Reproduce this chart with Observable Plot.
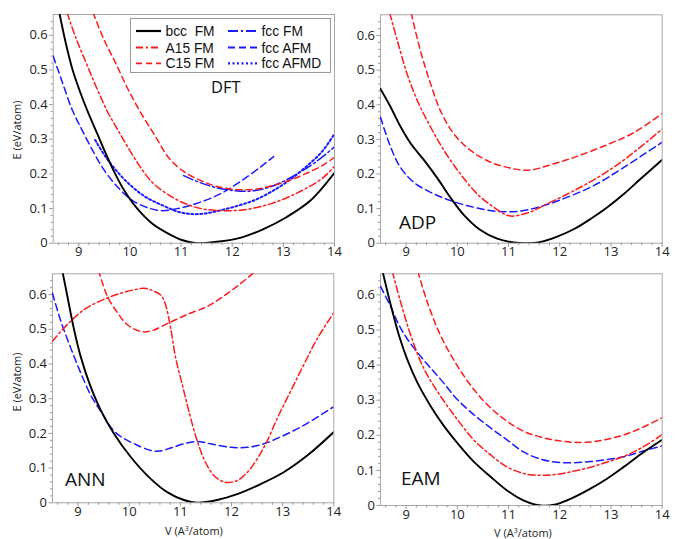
<!DOCTYPE html>
<html><head><meta charset="utf-8">
<script src="https://cdn.jsdelivr.net/npm/d3@7"></script>
<script src="https://cdn.jsdelivr.net/npm/@observablehq/plot@0.6"></script>
<style>
body{margin:0;background:#fff;}
#wrap{position:relative;width:681px;height:539px;overflow:hidden;font-family:"Open Sans",sans-serif;background:#fff;}
#wrap .pl{position:absolute;}
#ov{position:absolute;left:0;top:0;pointer-events:none;}
</style></head><body><div id="wrap"></div>
<script>
// ---- tick labels ----
const xTicks = [9, 10, 11, 12, 13, 14];
const yTicks = [0, 0.1, 0.2, 0.3, 0.4, 0.5, 0.6];
const xMinor = d3.range(8.6, 14.0, 0.2).filter(v => Math.abs(v - Math.round(v)) > 0.01);
const yMinor = d3.range(0.02, 0.66, 0.02).filter(v => Math.abs(v * 10 - Math.round(v * 10)) > 0.01);

// ---- series names ----
const seriesNames = ["bcc  FM", "A15 FM", "C15 FM", "fcc FM", "fcc AFM", "fcc AFMD"];
const panelNames = ["DFT", "ADP", "ANN", "EAM"];

// ---- DFT ----
const dftBcc = [[8.62,0.665],[8.75,0.575],[8.88,0.5],[9.03,0.435],[9.18,0.378],[9.37,0.313],[9.53,0.258],[9.72,0.198],[9.89,0.152],[10.12,0.104],[10.44,0.056],[10.77,0.026],[11.0,0.01],[11.3,0.0],[11.7,0.004],[12.19,0.017],[12.6,0.04],[13.06,0.075],[13.53,0.123],[14.0,0.203]];
const dftA15 = [[8.77,0.665],[8.95,0.59],[9.14,0.522],[9.35,0.448],[9.56,0.38],[9.74,0.333],[9.92,0.287],[10.18,0.225],[10.44,0.175],[10.77,0.138],[11.09,0.114],[11.42,0.099],[11.8,0.094],[12.13,0.095],[12.45,0.102],[12.78,0.115],[13.11,0.134],[13.43,0.157],[13.76,0.187],[14.0,0.222]];
const dftC15 = [[9.28,0.665],[9.5,0.585],[9.72,0.52],[9.95,0.448],[10.21,0.377],[10.5,0.308],[10.75,0.248],[11.05,0.207],[11.4,0.18],[11.67,0.165],[12.06,0.155],[12.46,0.156],[12.78,0.166],[13.11,0.181],[13.43,0.2],[13.76,0.224],[14.0,0.248]];
const dftFccFM = [[11.05,0.195],[11.35,0.176],[11.67,0.161],[12.0,0.152],[12.32,0.15],[12.65,0.158],[12.98,0.177],[13.3,0.203],[13.63,0.234],[14.0,0.278]];
const dftFccAFM = [[8.5,0.54],[8.68,0.464],[8.88,0.382],[9.07,0.325],[9.27,0.268],[9.5,0.21],[9.76,0.162],[10.05,0.123],[10.38,0.101],[10.64,0.094],[10.96,0.101],[11.29,0.114],[11.55,0.128],[11.8,0.145],[12.19,0.181],[12.59,0.224],[12.81,0.25]];
const dftFccAFMD = [[9.32,0.298],[9.53,0.248],[9.79,0.2],[10.05,0.162],[10.31,0.133],[10.64,0.109],[10.96,0.09],[11.22,0.084],[11.48,0.086],[11.8,0.096],[12.13,0.109],[12.45,0.125],[12.78,0.15],[13.11,0.181],[13.43,0.219],[13.76,0.265],[14.0,0.316]];

// ---- ADP ----
const adpBcc = [[8.5,0.446],[8.7,0.393],[8.89,0.337],[9.09,0.288],[9.35,0.24],[9.61,0.188],[9.87,0.131],[10.13,0.081],[10.45,0.038],[10.78,0.013],[11.1,0.002],[11.33,0.0],[11.6,0.003],[11.95,0.019],[12.28,0.041],[12.6,0.07],[12.93,0.104],[13.25,0.142],[13.58,0.186],[14.0,0.241]];
const adpA15 = [[8.68,0.665],[8.83,0.585],[9.02,0.489],[9.22,0.412],[9.48,0.335],[9.74,0.268],[10.06,0.2],[10.39,0.142],[10.71,0.104],[11.01,0.079],[11.36,0.087],[11.76,0.114],[12.28,0.152],[12.8,0.195],[13.32,0.248],[14.0,0.33]];
const adpC15 = [[9.1,0.665],[9.28,0.556],[9.48,0.46],[9.67,0.383],[9.93,0.316],[10.26,0.268],[10.65,0.234],[11.1,0.215],[11.3,0.211],[11.5,0.213],[11.76,0.224],[12.28,0.248],[12.93,0.285],[13.45,0.32],[14.0,0.375]];
const adpFccAFM = [[8.5,0.364],[8.7,0.277],[8.89,0.219],[9.15,0.176],[9.48,0.147],[9.87,0.123],[10.32,0.104],[10.78,0.092],[11.17,0.092],[11.63,0.106],[12.15,0.133],[12.67,0.167],[13.25,0.219],[14.0,0.292]];

// ---- ANN ----
const annBcc = [[8.69,0.67],[8.79,0.596],[8.92,0.5],[9.05,0.422],[9.22,0.345],[9.44,0.268],[9.7,0.2],[10.03,0.132],[10.4,0.072],[10.75,0.03],[11.07,0.008],[11.33,0.0],[11.72,0.008],[12.11,0.025],[12.57,0.054],[13.02,0.088],[13.48,0.136],[14.0,0.204]];
const annA15 = [[8.5,0.466],[8.79,0.514],[9.12,0.557],[9.44,0.582],[9.77,0.601],[10.1,0.614],[10.3,0.618],[10.45,0.612],[10.62,0.598],[10.71,0.571],[10.81,0.503],[10.91,0.416],[11.04,0.339],[11.17,0.262],[11.33,0.178],[11.49,0.117],[11.66,0.078],[11.88,0.059],[12.11,0.064],[12.31,0.088],[12.5,0.126],[12.67,0.17],[12.89,0.242],[13.15,0.32],[13.41,0.397],[13.68,0.474],[14.0,0.548]];
const annC15 = [[9.4,0.67],[9.57,0.596],[9.77,0.548],[9.96,0.514],[10.22,0.494],[10.42,0.495],[10.81,0.521],[11.2,0.547],[11.53,0.566],[11.79,0.59],[12.11,0.624],[12.45,0.665]];
const annFccAFM = [[8.5,0.604],[8.66,0.525],[8.86,0.445],[9.05,0.375],[9.25,0.31],[9.45,0.262],[9.7,0.207],[9.9,0.185],[10.1,0.17],[10.42,0.151],[10.6,0.149],[10.81,0.158],[11.07,0.17],[11.33,0.177],[11.59,0.17],[11.98,0.16],[12.31,0.16],[12.63,0.17],[13.02,0.194],[13.41,0.223],[14.0,0.277]];

// ---- EAM ----
const eamBcc = [[8.54,0.667],[8.7,0.571],[8.86,0.485],[9.02,0.417],[9.22,0.35],[9.48,0.283],[9.74,0.226],[10.0,0.178],[10.32,0.125],[10.65,0.082],[10.97,0.043],[11.3,0.014],[11.63,0.0],[11.89,0.002],[12.21,0.019],[12.6,0.048],[12.93,0.077],[13.25,0.11],[13.58,0.146],[14.0,0.187]];
const eamA15 = [[8.73,0.667],[8.89,0.581],[9.09,0.485],[9.35,0.389],[9.67,0.312],[10.0,0.245],[10.32,0.187],[10.65,0.144],[10.97,0.11],[11.3,0.091],[11.63,0.086],[11.95,0.089],[12.28,0.098],[12.6,0.109],[12.93,0.124],[13.25,0.14],[13.58,0.163],[14.0,0.202]];
const eamC15 = [[9.23,0.667],[9.41,0.581],[9.67,0.485],[10.0,0.398],[10.32,0.331],[10.65,0.278],[10.97,0.24],[11.3,0.211],[11.63,0.195],[11.95,0.185],[12.28,0.18],[12.6,0.181],[12.93,0.189],[13.25,0.201],[13.58,0.22],[14.0,0.25]];
const eamFccAFM = [[8.5,0.624],[8.7,0.566],[8.86,0.514],[9.02,0.475],[9.35,0.413],[9.67,0.36],[10.0,0.302],[10.32,0.259],[10.65,0.221],[10.97,0.187],[11.3,0.152],[11.63,0.132],[11.95,0.123],[12.28,0.122],[12.6,0.125],[12.93,0.131],[13.25,0.139],[13.58,0.153],[14.0,0.17]];

// ---- styles ----
const RED = "#ff1a1a", BLUE = "#1a1aff";
const styles = {
  "bcc  FM":  {stroke: "#000", w: 1.9, dash: null},
  "A15 FM":   {stroke: RED, w: 1.5, dash: "7,3,2,3"},
  "C15 FM":   {stroke: RED, w: 1.5, dash: "6,4"},
  "fcc FM":   {stroke: BLUE, w: 1.5, dash: "10,3,2,3"},
  "fcc AFM":  {stroke: BLUE, w: 1.5, dash: "7,4"},
  "fcc AFMD": {stroke: BLUE, w: 2, dash: "2,2.5"}
};

const panels = [
  {left: 0, top: 0, width: 340, height: 270, ml: 52.7, mr: 6, mt: 14, mb: 27.3,
   series: [["fcc AFMD", dftFccAFMD], ["fcc AFM", dftFccAFM], ["fcc FM", dftFccFM], ["C15 FM", dftC15], ["A15 FM", dftA15], ["bcc  FM", dftBcc]]},
  {left: 340, top: 0, width: 341, height: 270, ml: 40, mr: 19.3, mt: 14.3, mb: 27.3,
   series: [["fcc AFM", adpFccAFM], ["C15 FM", adpC15], ["A15 FM", adpA15], ["bcc  FM", adpBcc]]},
  {left: 0, top: 270, width: 340, height: 269, ml: 52, mr: 6.7, mt: 3.3, mb: 36.7,
   series: [["fcc AFM", annFccAFM], ["C15 FM", annC15], ["A15 FM", annA15], ["bcc  FM", annBcc]]},
  {left: 340, top: 270, width: 341, height: 269, ml: 40, mr: 19.3, mt: 3.3, mb: 34,
   series: [["fcc AFM", eamFccAFM], ["C15 FM", eamC15], ["A15 FM", eamA15], ["bcc  FM", eamBcc]]}
];

const wrap = document.getElementById("wrap");
for (const p of panels) {
  const marks = [
    Plot.frame({stroke: "#a8a8a8"}),
    Plot.axisX({anchor: "bottom", ticks: xMinor, tickSize: 2.5, tickFormat: () => "", stroke: "#999", label: null}),
    Plot.axisX({anchor: "bottom", ticks: xTicks, tickSize: 4, tickPadding: 0, tickFormat: d => String(d), stroke: "#999", fill: "#222", label: null}),
    Plot.axisY({anchor: "left", ticks: yMinor, tickSize: 2, tickFormat: () => "", stroke: "#999", label: null}),
    Plot.axisY({anchor: "left", ticks: yTicks, tickSize: 3.5, tickPadding: 2, tickFormat: d => String(d), stroke: "#999", fill: "#222", label: null})
  ];
  for (const [name, data] of p.series) {
    const s = styles[name];
    marks.push(Plot.line(data, {x: d => d[0], y: d => d[1], stroke: s.stroke, strokeWidth: s.w,
      strokeDasharray: s.dash, curve: "catmull-rom", clip: true}));
  }
  const svg = Plot.plot({
    width: p.width, height: p.height,
    marginLeft: p.ml, marginRight: p.mr, marginTop: p.mt, marginBottom: p.mb,
    x: {domain: [8.5, 14]},
    y: {domain: [0, 0.66]},
    style: {fontFamily: "Open Sans", fontSize: "13px", overflow: "visible", background: "transparent"},
    marks
  });
  svg.classList.add("pl");
  svg.style.left = p.left + "px";
  svg.style.top = p.top + "px";
  wrap.appendChild(svg);
}

// ---- overlay: legend, panel names, axis titles ----
const NS = "http://www.w3.org/2000/svg";
const ov = document.createElementNS(NS, "svg");
ov.setAttribute("id", "ov");
ov.setAttribute("width", 681);
ov.setAttribute("height", 539);
ov.setAttribute("font-family", "Open Sans");
function el(tag, attrs, text, parent) {
  const e = document.createElementNS(NS, tag);
  for (const k in attrs) if (attrs[k] != null) e.setAttribute(k, attrs[k]);
  if (text != null) e.textContent = text;
  (parent || ov).appendChild(e);
  return e;
}
// legend
el("rect", {x: 130.5, y: 18.5, width: 200, height: 54, fill: "#fff", stroke: "#999", "stroke-width": 1});
const legRows = [31, 47.5, 63.3];
seriesNames.forEach((n, i) => {
  const col = Math.floor(i / 3), row = i % 3;
  const s = styles[n];
  const x0 = col === 0 ? 136 : 228, x1 = col === 0 ? 161 : 257, tx = col === 0 ? 165.5 : 261.5;
  el("line", {x1: x0, x2: x1, y1: legRows[row], y2: legRows[row], stroke: s.stroke, "stroke-width": s.w + 0.3, "stroke-dasharray": s.dash});
  el("text", {x: tx, y: legRows[row] + 5, "font-size": 13.8, "font-family": "Liberation Sans", fill: "#111", style: "white-space:pre"}, n);
});
// panel names
el("text", {x: 211, y: 93.3, "font-size": 16.5, fill: "#111"}, panelNames[0]);
el("text", {x: 399, y: 228.5, "font-size": 19, fill: "#111"}, panelNames[1]);
el("text", {x: 65, y: 485.5, "font-size": 19, fill: "#111"}, panelNames[2]);
el("text", {x: 401, y: 485, "font-size": 19, fill: "#111"}, panelNames[3]);
// axis titles
el("text", {x: 0, y: 0, "font-size": 11, fill: "#222", "text-anchor": "middle", transform: "translate(20.5,130) rotate(-90)"}, "E (eV/atom)");
el("text", {x: 0, y: 0, "font-size": 11, fill: "#222", "text-anchor": "middle", transform: "translate(20.5,382) rotate(-90)"}, "E (eV/atom)");
function xTitle(cx, cy) {
  const t = el("text", {x: cx, y: cy, "font-size": 11, fill: "#222", "text-anchor": "middle"}, "V (A");
  el("tspan", {"font-size": 7, dy: -4}, "3", t);
  el("tspan", {dy: 4}, "/atom)", t);
}
xTitle(194, 535);
xTitle(523, 537);
wrap.appendChild(ov);
</script></body></html>
